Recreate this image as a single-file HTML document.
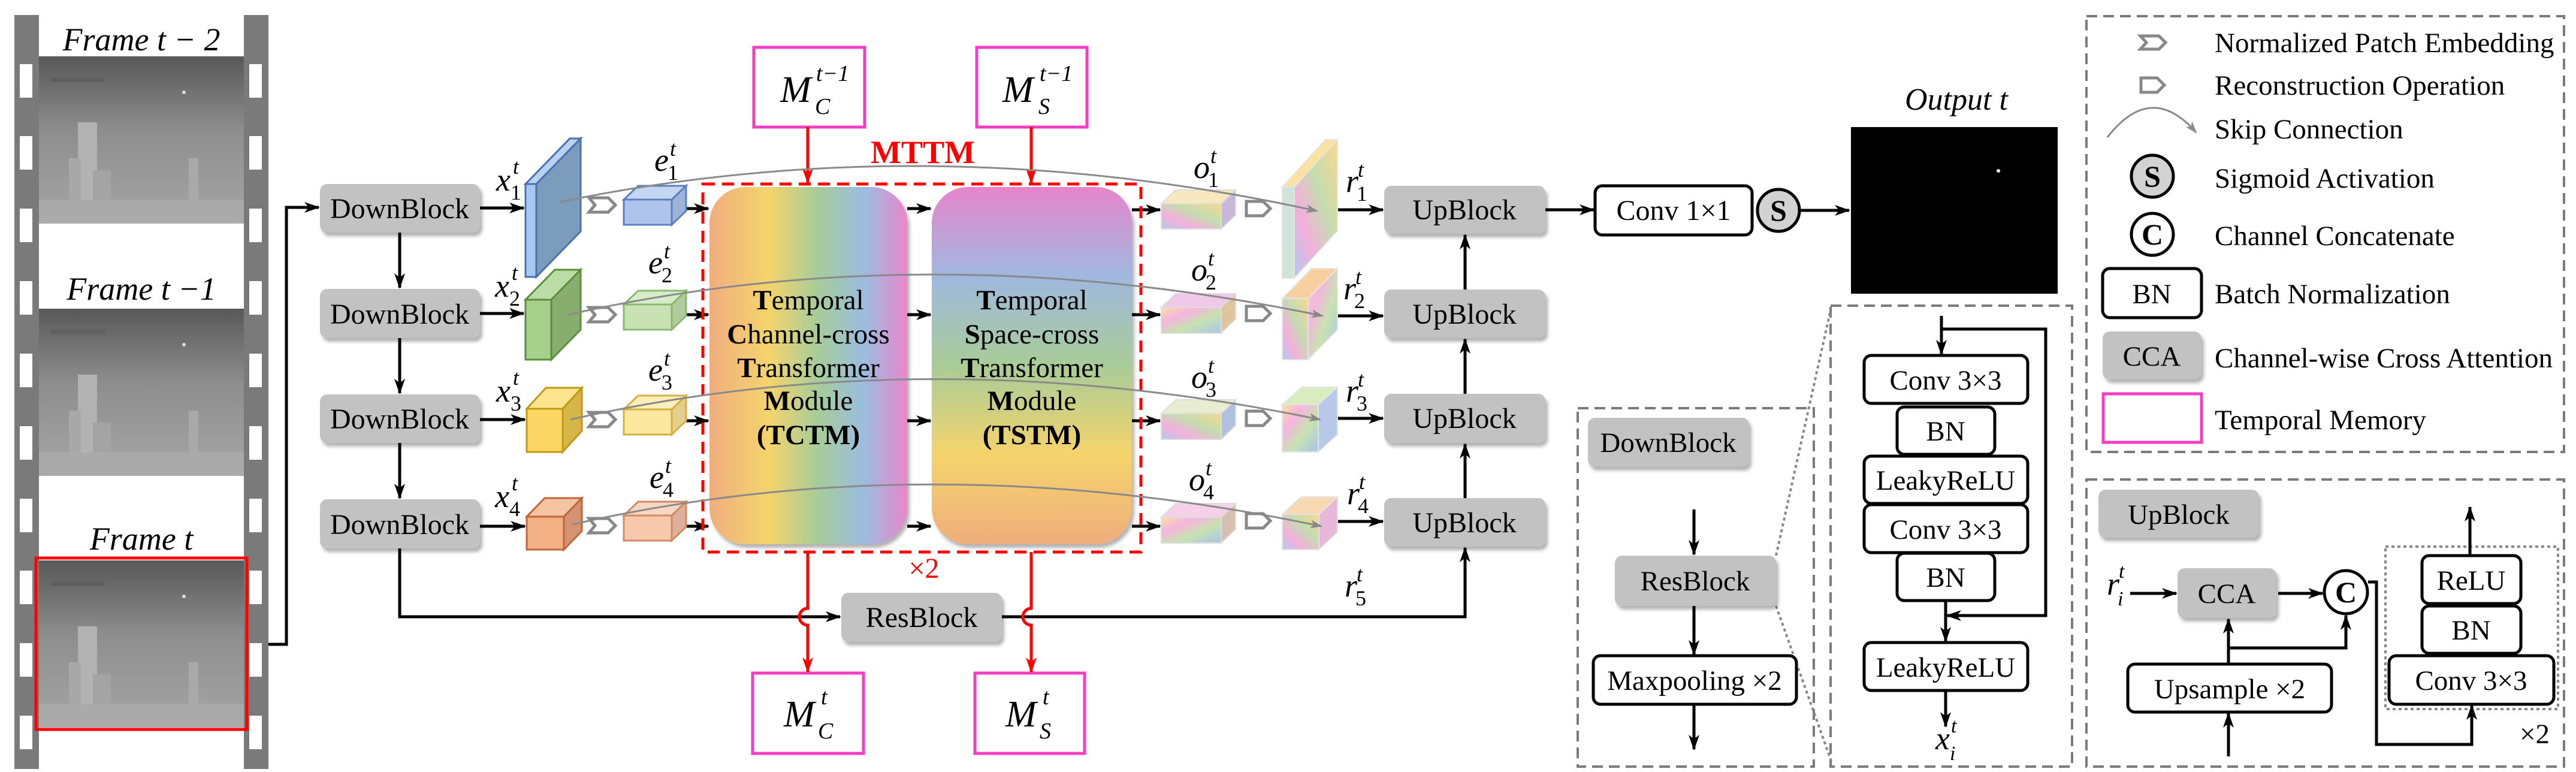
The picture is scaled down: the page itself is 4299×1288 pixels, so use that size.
<!DOCTYPE html>
<html><head><meta charset="utf-8"><style>
html,body{margin:0;padding:0;background:#fff;width:4299px;height:1288px;overflow:hidden}
svg{display:block;font-family:'Liberation Serif','Times New Roman',serif}
svg text, svg tspan{font-family:'Liberation Serif','Times New Roman',serif}
</style></head><body>
<svg width="4299" height="1288" viewBox="0 0 4299 1288" xmlns="http://www.w3.org/2000/svg" font-family="Liberation Serif, Times New Roman, serif">
<defs>
<marker id="a" markerWidth="26" markerHeight="18" refX="24" refY="9" orient="auto" markerUnits="userSpaceOnUse"><path d="M0,0 L26,9 L0,18 L7,9z" fill="#000"/></marker>
<marker id="ar" markerWidth="26" markerHeight="18" refX="24" refY="9" orient="auto" markerUnits="userSpaceOnUse"><path d="M0,0 L26,9 L0,18 L7,9z" fill="#f00"/></marker>
<marker id="ag" markerWidth="20" markerHeight="14" refX="18" refY="7" orient="auto" markerUnits="userSpaceOnUse"><path d="M0,0 L20,7 L0,14 L5,7z" fill="#888"/></marker>
<filter id="sh" x="-10%" y="-10%" width="130%" height="140%"><feDropShadow dx="4" dy="6" stdDeviation="3" flood-color="#000" flood-opacity="0.3"/></filter>
<linearGradient id="fr" x1="0" y1="0" x2="0" y2="1"><stop offset="0" stop-color="#585858"/><stop offset="0.45" stop-color="#8e8e8e"/><stop offset="1" stop-color="#a6a6a6"/></linearGradient>
<linearGradient id="tc" x1="0" y1="0" x2="1" y2="0"><stop offset="0" stop-color="#efae7e"/><stop offset="0.3" stop-color="#f5d46c"/><stop offset="0.55" stop-color="#a6cc9a"/><stop offset="0.78" stop-color="#9bbde0"/><stop offset="1" stop-color="#ea86cc"/></linearGradient>
<linearGradient id="ts" x1="0" y1="0" x2="0" y2="1"><stop offset="0" stop-color="#e685cc"/><stop offset="0.25" stop-color="#a0b8e0"/><stop offset="0.5" stop-color="#a9cc98"/><stop offset="0.75" stop-color="#f5d46c"/><stop offset="1" stop-color="#eeae7c"/></linearGradient>
<linearGradient id="rb" x1="0" y1="0" x2="1" y2="1"><stop offset="0" stop-color="#fbe0a0"/><stop offset="0.3" stop-color="#f6b4e0"/><stop offset="0.6" stop-color="#c8e2b0"/><stop offset="1" stop-color="#a8c4ec"/></linearGradient>
<linearGradient id="rb2" x1="1" y1="0" x2="0" y2="1"><stop offset="0" stop-color="#f8d890"/><stop offset="0.4" stop-color="#c4dcb0"/><stop offset="0.7" stop-color="#f4b0dc"/><stop offset="1" stop-color="#b4c8ee"/></linearGradient>
<g id="frame">
<rect x="0" y="0" width="342" height="279" fill="url(#fr)"/>
<rect x="20" y="35" width="90" height="8" fill="#555" opacity="0.5"/>
<rect x="65" y="110" width="32" height="169" fill="#b2b2b2"/>
<rect x="50" y="170" width="20" height="109" fill="#a8a8a8"/>
<rect x="90" y="190" width="30" height="89" fill="#a4a4a4"/>
<rect x="250" y="170" width="16" height="109" fill="#a9a9a9"/>
<rect x="0" y="240" width="342" height="39" fill="#aaa"/>
<circle cx="242" cy="60" r="3" fill="#ddd"/>
</g>
</defs>

<rect x="24" y="25" width="41" height="1258" fill="#7a7a7a"/>
<rect x="407" y="25" width="41" height="1258" fill="#7a7a7a"/>
<g fill="#fff">
<rect x="33" y="107" width="21" height="56"/><rect x="33" y="227" width="21" height="56"/><rect x="33" y="348" width="21" height="56"/><rect x="33" y="469" width="21" height="56"/><rect x="33" y="590" width="21" height="56"/><rect x="33" y="711" width="21" height="56"/><rect x="33" y="832" width="21" height="56"/><rect x="33" y="952" width="21" height="56"/><rect x="33" y="1073" width="21" height="56"/><rect x="33" y="1194" width="21" height="56"/>
<rect x="416" y="107" width="21" height="56"/><rect x="416" y="227" width="21" height="56"/><rect x="416" y="348" width="21" height="56"/><rect x="416" y="469" width="21" height="56"/><rect x="416" y="590" width="21" height="56"/><rect x="416" y="711" width="21" height="56"/><rect x="416" y="832" width="21" height="56"/><rect x="416" y="952" width="21" height="56"/><rect x="416" y="1073" width="21" height="56"/><rect x="416" y="1194" width="21" height="56"/>
</g>
<use href="#frame" x="65" y="94"/>
<use href="#frame" x="65" y="515"/>
<use href="#frame" x="65" y="935"/>
<rect x="60" y="931" width="352" height="286" fill="none" stroke="#f00" stroke-width="5"/>
<g font-size="54" font-style="italic" text-anchor="middle" font-family="Liberation Serif, serif">
<text x="236" y="84">Frame t − 2</text>
<text x="236" y="500">Frame t −1</text>
<text x="236" y="917">Frame t</text>
</g>

<path d="M448 1075 H478 V346 H532" fill="none" stroke="#000" stroke-width="5" marker-end="url(#a)"/>

<g fill="#c2c2c2" filter="url(#sh)">
<rect x="534" y="307" width="267" height="81" rx="12"/>
<rect x="534" y="482" width="267" height="82" rx="12"/>
<rect x="534" y="658" width="267" height="81" rx="12"/>
<rect x="534" y="833" width="267" height="82" rx="12"/>
</g>
<g font-size="48" text-anchor="middle" font-family="Liberation Serif, serif">
<text x="667" y="364">DownBlock</text>
<text x="667" y="540">DownBlock</text>
<text x="667" y="715">DownBlock</text>
<text x="667" y="891">DownBlock</text>
</g>
<g stroke="#000" stroke-width="5" fill="none" marker-end="url(#a)">
<path d="M667 388 V480"/><path d="M667 564 V656"/><path d="M667 739 V831"/>
<path d="M801 347 H874"/><path d="M801 523 H874"/><path d="M801 700 H876"/><path d="M801 878 H876"/>
<path d="M667 915 V1029 H1402"/>
<path d="M1672 1029 H2445 V914"/>
<path d="M2445 831 V741"/><path d="M2445 657 V566"/><path d="M2445 483 V392"/>
<path d="M1145 348 H1182"/><path d="M1145 525 H1182"/><path d="M1145 702 H1182"/><path d="M1145 878 H1182"/>
<path d="M1514 348 H1553"/><path d="M1514 525 H1553"/><path d="M1514 702 H1553"/><path d="M1514 878 H1553"/>
<path d="M1889 350 H1936"/><path d="M1889 525 H1936"/><path d="M1889 702 H1936"/><path d="M1889 878 H1936"/>
<path d="M2232 350 H2308"/><path d="M2232 527 H2308"/><path d="M2232 698 H2308"/><path d="M2232 870 H2308"/>
<path d="M2579 350 H2660"/><path d="M3005 351 H3086"/>
</g>

<g stroke-width="3">
<polygon points="877,307 895,307 969,231 951,231" fill="#b8d2f2" stroke="#4a70b0"/>
<polygon points="895,307 969,231 969,386 895,462" fill="#7b9cbb" stroke="#4a70b0"/>
<rect x="877" y="307" width="18" height="155" fill="#a8c8ee" stroke="#4a70b0"/>
<polygon points="877,500 920,500 969,450 926,450" fill="#bcdca6" stroke="#5a8f3a"/>
<polygon points="920,500 969,450 969,550 920,600" fill="#88ad6e" stroke="#5a8f3a"/>
<rect x="877" y="500" width="43" height="100" fill="#a8d08d" stroke="#5a8f3a"/>
<polygon points="879,682 939,682 971,647 911,647" fill="#fde48e" stroke="#c09a10"/>
<polygon points="939,682 971,647 971,719 939,754" fill="#d6b54a" stroke="#c09a10"/>
<rect x="879" y="682" width="60" height="72" fill="#fcd766" stroke="#c09a10"/>
<polygon points="879,862 941,862 971,831 909,831" fill="#f5c4a2" stroke="#c0653a"/>
<polygon points="941,862 971,831 971,886 941,917" fill="#d49474" stroke="#c0653a"/>
<rect x="879" y="862" width="62" height="55" fill="#f2b084" stroke="#c0653a"/>
</g>
<g stroke-width="3">
<polygon points="1041,333 1121,333 1145,310 1065,310" fill="#c4d6f2" stroke="#5a80c0"/>
<polygon points="1121,333 1145,310 1145,352 1121,375" fill="#9cb4d8" stroke="#5a80c0"/>
<rect x="1041" y="333" width="80" height="42" fill="#aec4ea" stroke="#5a80c0"/>
<polygon points="1041,508 1121,508 1145,485 1065,485" fill="#d6ebc8" stroke="#8ab870"/>
<polygon points="1121,508 1145,485 1145,527 1121,550" fill="#b0cc9c" stroke="#8ab870"/>
<rect x="1041" y="508" width="80" height="42" fill="#c8e2b4" stroke="#8ab870"/>
<polygon points="1041,683 1121,683 1145,660 1065,660" fill="#fef0b8" stroke="#d4b040"/>
<polygon points="1121,683 1145,660 1145,702 1121,725" fill="#e4d08c" stroke="#d4b040"/>
<rect x="1041" y="683" width="80" height="42" fill="#fde8a0" stroke="#d4b040"/>
<polygon points="1041,860 1121,860 1145,837 1065,837" fill="#f8d8c4" stroke="#d08a66"/>
<polygon points="1121,860 1145,837 1145,879 1121,902" fill="#deb09a" stroke="#d08a66"/>
<rect x="1041" y="860" width="80" height="42" fill="#f6c8ac" stroke="#d08a66"/>
</g>
<g fill="#fff" stroke="#888" stroke-width="5">
<polygon points="983,330 1015,330 1027,342 1015,354 983,354 993,342"/>
<polygon points="983,513 1015,513 1027,525 1015,537 983,537 993,525"/>
<polygon points="983,688 1015,688 1027,700 1015,712 983,712 993,700"/>
<polygon points="983,865 1015,865 1027,877 1015,889 983,889 993,877"/>
<polygon points="2080,336 2108,336 2120,348 2108,360 2080,360"/>
<polygon points="2080,511 2108,511 2120,523 2108,535 2080,535"/>
<polygon points="2080,686 2108,686 2120,698 2108,710 2080,710"/>
<polygon points="2080,857 2108,857 2120,869 2108,881 2080,881"/>
</g>

<rect x="1184" y="312" width="330" height="596" rx="60" fill="url(#tc)" filter="url(#sh)"/>
<rect x="1555" y="312" width="334" height="596" rx="60" fill="url(#ts)" filter="url(#sh)"/>
<rect x="1173" y="307" width="731" height="614" fill="none" stroke="#f00" stroke-width="5" stroke-dasharray="20 12"/>
<text x="1540" y="272" font-size="54" font-weight="bold" fill="#f00" text-anchor="middle" font-family="Liberation Serif, serif">MTTM</text>
<text x="1542" y="964" font-size="48" fill="#f00" text-anchor="middle" font-family="Liberation Serif, serif">×2</text>
<g font-size="47" text-anchor="middle" font-family="Liberation Serif, serif">
<text x="1349" y="516"><tspan font-weight="bold">T</tspan>emporal</text>
<text x="1349" y="573"><tspan font-weight="bold">C</tspan>hannel-cross</text>
<text x="1349" y="629"><tspan font-weight="bold">T</tspan>ransformer</text>
<text x="1349" y="684"><tspan font-weight="bold">M</tspan>odule</text>
<text x="1349" y="741" font-weight="bold">(TCTM)</text>
<text x="1722" y="516"><tspan font-weight="bold">T</tspan>emporal</text>
<text x="1722" y="573"><tspan font-weight="bold">S</tspan>pace-cross</text>
<text x="1722" y="629"><tspan font-weight="bold">T</tspan>ransformer</text>
<text x="1722" y="684"><tspan font-weight="bold">M</tspan>odule</text>
<text x="1722" y="741" font-weight="bold">(TSTM)</text>
</g>

<g fill="none" stroke="#f73cc4" stroke-width="5">
<rect x="1258" y="79" width="185" height="133"/><rect x="1630" y="79" width="184" height="133"/>
<rect x="1256" y="1123" width="185" height="134"/><rect x="1627" y="1123" width="183" height="134"/>
</g>
<g font-size="62" font-style="italic" font-family="Liberation Serif, serif">
<text x="1302" y="170">M</text><text x="1360" y="190" font-size="38">C</text><text x="1362" y="135" font-size="38">t−1</text>
<text x="1673" y="170">M</text><text x="1733" y="190" font-size="38">S</text><text x="1735" y="135" font-size="38">t−1</text>
<text x="1308" y="1212">M</text><text x="1365" y="1232" font-size="38">C</text><text x="1370" y="1175" font-size="38">t</text>
<text x="1678" y="1212">M</text><text x="1735" y="1232" font-size="38">S</text><text x="1740" y="1175" font-size="38">t</text>
</g>
<g stroke="#f00" stroke-width="5" fill="none">
<path d="M1348 212 V305" marker-end="url(#ar)"/><path d="M1721 212 V305" marker-end="url(#ar)"/>
<path d="M1348 921 V1015 A14 14 0 0 0 1348 1043 V1121" marker-end="url(#ar)"/>
<path d="M1721 921 V1015 A14 14 0 0 0 1721 1043 V1121" marker-end="url(#ar)"/>
</g>
<rect x="1404" y="989" width="268" height="82" rx="12" fill="#c2c2c2" filter="url(#sh)"/>
<text x="1538" y="1046" font-size="48" text-anchor="middle" font-family="Liberation Serif, serif">ResBlock</text>

<g stroke="#ddd" stroke-width="2">
<polygon points="1938,340 2038,340 2062,317 1962,317" fill="#f8e8c0"/>
<polygon points="2038,340 2062,317 2062,359 2038,382" fill="#c8b8d8"/>
<rect x="1938" y="340" width="100" height="42" fill="url(#rb2)"/>
<polygon points="1938,513 2038,513 2062,490 1962,490" fill="#f2c8e8"/>
<polygon points="2038,513 2062,490 2062,532 2038,556" fill="#e0c49c"/>
<rect x="1938" y="513" width="100" height="43" fill="url(#rb)"/>
<polygon points="1938,690 2038,690 2062,667 1962,667" fill="#e8ecd0"/>
<polygon points="2038,690 2062,667 2062,710 2038,733" fill="#b0c0e0"/>
<rect x="1938" y="690" width="100" height="43" fill="url(#rb2)"/>
<polygon points="1938,863 2038,863 2062,840 1962,840" fill="#f6d0e8"/>
<polygon points="2038,863 2062,840 2062,883 2038,906" fill="#d8c0b0"/>
<rect x="1938" y="863" width="100" height="43" fill="url(#rb)"/>
</g>
<g stroke="#e4e4e4" stroke-width="2">
<polygon points="2140,312 2160,312 2232,233 2212,233" fill="#fbe2a0"/>
<polygon points="2160,312 2232,233 2232,385 2160,464" fill="url(#rb2)"/>
<rect x="2140" y="312" width="20" height="152" fill="#cfe4d8"/>
<polygon points="2140,498 2183,498 2232,448 2189,448" fill="#f8d0a0"/>
<polygon points="2183,498 2232,448 2232,550 2183,600" fill="url(#rb)"/>
<rect x="2140" y="498" width="43" height="102" fill="url(#rb2)"/>
<polygon points="2140,675 2200,675 2232,646 2172,646" fill="#d8ecc0"/>
<polygon points="2200,675 2232,646 2232,725 2200,754" fill="#b8c8e8"/>
<rect x="2140" y="675" width="60" height="79" fill="url(#rb)"/>
<polygon points="2140,858 2201,858 2232,829 2171,829" fill="#f8d8b0"/>
<polygon points="2201,858 2232,829 2232,888 2201,917" fill="#e8b8d8"/>
<rect x="2140" y="858" width="61" height="59" fill="url(#rb2)"/>
</g>

<g fill="none" stroke="#8a8a8a" stroke-width="3" marker-end="url(#ag)">
<path d="M934 337 Q1550 210 2198 352"/>
<path d="M948 525 Q1550 390 2207 527"/>
<path d="M952 700 Q1550 565 2203 700"/>
<path d="M955 875 Q1550 740 2205 878"/>
</g>

<g font-size="54" font-style="italic" font-family="Liberation Serif, serif">
<text x="828" y="318">x</text><text x="826" y="495">x</text><text x="828" y="670">x</text><text x="826" y="846">x</text>
<text x="1092" y="285">e</text><text x="1082" y="456">e</text><text x="1082" y="635">e</text><text x="1084" y="814">e</text>
<text x="1992" y="297">o</text><text x="1988" y="468">o</text><text x="1988" y="647">o</text><text x="1984" y="818">o</text>
<text x="2246" y="320">r</text><text x="2242" y="499">r</text><text x="2246" y="670">r</text><text x="2248" y="841">r</text><text x="2244" y="995">r</text>
</g>
<g font-size="36" font-family="Liberation Serif, serif">
<text x="852" y="333">1</text><text x="850" y="510">2</text><text x="852" y="685">3</text><text x="850" y="861">4</text>
<text x="1114" y="300">1</text><text x="1104" y="471">2</text><text x="1104" y="650">3</text><text x="1106" y="829">4</text>
<text x="2016" y="312">1</text><text x="2012" y="483">2</text><text x="2012" y="662">3</text><text x="2008" y="833">4</text>
<text x="2264" y="335">1</text><text x="2260" y="514">2</text><text x="2264" y="685">3</text><text x="2266" y="856">4</text><text x="2262" y="1010">5</text>
</g>
<g font-size="36" font-style="italic" font-family="Liberation Serif, serif">
<text x="856" y="290">t</text><text x="854" y="467">t</text><text x="856" y="642">t</text><text x="854" y="818">t</text>
<text x="1118" y="260">t</text><text x="1108" y="431">t</text><text x="1108" y="610">t</text><text x="1110" y="789">t</text>
<text x="2020" y="272">t</text><text x="2016" y="443">t</text><text x="2016" y="622">t</text><text x="2012" y="793">t</text>
<text x="2266" y="295">t</text><text x="2262" y="474">t</text><text x="2266" y="645">t</text><text x="2268" y="816">t</text><text x="2264" y="970">t</text>
</g>

<g fill="#c2c2c2" filter="url(#sh)">
<rect x="2310" y="310" width="269" height="80" rx="12"/>
<rect x="2310" y="483" width="269" height="81" rx="12"/>
<rect x="2310" y="657" width="269" height="82" rx="12"/>
<rect x="2310" y="831" width="269" height="81" rx="12"/>
</g>
<g font-size="48" text-anchor="middle" font-family="Liberation Serif, serif">
<text x="2444" y="366">UpBlock</text><text x="2444" y="540">UpBlock</text><text x="2444" y="714">UpBlock</text><text x="2444" y="888">UpBlock</text>
</g>
<rect x="2662" y="310" width="262" height="82" rx="12" fill="#fff" stroke="#000" stroke-width="5"/>
<text x="2793" y="367" font-size="48" text-anchor="middle" font-family="Liberation Serif, serif">Conv 1×1</text>
<circle cx="2968" cy="351" r="35" fill="#d2d2d2" stroke="#000" stroke-width="5"/>
<text x="2968" y="368" font-size="50" font-weight="bold" text-anchor="middle" font-family="Liberation Serif, serif">S</text>
<rect x="3089" y="212" width="345" height="278" fill="#000"/>
<circle cx="3335" cy="285" r="3" fill="#fff"/>
<text x="3265" y="183" font-size="52" font-style="italic" text-anchor="middle" font-family="Liberation Serif, serif">Output t</text>

<g fill="none" stroke="#7a7a7a" stroke-width="4" stroke-dasharray="18 10">
<rect x="2633" y="681" width="394" height="598"/>
<rect x="3055" y="510" width="403" height="769"/>
<rect x="3482" y="27" width="797" height="727"/>
<rect x="3482" y="800" width="797" height="479"/>
</g>
<g fill="none" stroke="#888" stroke-width="4" stroke-dasharray="5 5">
<path d="M2964 927 L3055 517"/><path d="M2964 1011 L3058 1275"/>
<rect x="3981" y="912" width="288" height="271"/>
</g>

<g fill="#c2c2c2" filter="url(#sh)">
<rect x="2650" y="697" width="269" height="82" rx="12"/>
<rect x="2695" y="927" width="269" height="84" rx="12"/>
<rect x="3502" y="817" width="268" height="80" rx="12"/>
<rect x="3634" y="948" width="165" height="83" rx="12"/>
<rect x="3509" y="553" width="165" height="80" rx="12"/>
</g>
<g fill="#fff" stroke="#000" stroke-width="5">
<rect x="2659" y="1094" width="339" height="81" rx="12"/>
<rect x="3111" y="593" width="273" height="80" rx="12"/>
<rect x="3166" y="679" width="163" height="79" rx="12"/>
<rect x="3111" y="761" width="273" height="79" rx="12"/>
<rect x="3111" y="842" width="273" height="80" rx="12"/>
<rect x="3166" y="923" width="163" height="79" rx="12"/>
<rect x="3111" y="1072" width="273" height="80" rx="12"/>
<rect x="3509" y="448" width="165" height="82" rx="12"/>
<rect x="3551" y="1108" width="340" height="80" rx="12"/>
<rect x="4042" y="927" width="165" height="80" rx="12"/>
<rect x="4042" y="1011" width="165" height="79" rx="12"/>
<rect x="3987" y="1094" width="275" height="81" rx="12"/>
</g>
<g font-size="47" text-anchor="middle" font-family="Liberation Serif, serif">
<text x="2784" y="754">DownBlock</text>
<text x="2829" y="985">ResBlock</text>
<text x="2828" y="1151">Maxpooling ×2</text>
<text x="3247" y="650">Conv 3×3</text>
<text x="3247" y="735">BN</text>
<text x="3247" y="817">LeakyReLU</text>
<text x="3247" y="899">Conv 3×3</text>
<text x="3247" y="979">BN</text>
<text x="3247" y="1129">LeakyReLU</text>
<text x="3636" y="874">UpBlock</text>
<text x="3716" y="1006">CCA</text>
<text x="3721" y="1165">Upsample ×2</text>
<text x="4124" y="984">ReLU</text>
<text x="4124" y="1067">BN</text>
<text x="4124" y="1151">Conv 3×3</text>
<text x="3591" y="506">BN</text>
<text x="3591" y="610">CCA</text>
<text x="4230" y="1240">×2</text>
</g>
<g stroke="#000" stroke-width="5" fill="none" marker-end="url(#a)">
<path d="M2827 850 V925"/><path d="M2827 1011 V1092"/><path d="M2827 1175 V1250"/>
<path d="M3240 527 V591"/>
<path d="M3240 549 H3414 V1027 H3249"/>
<path d="M3247 1002 V1070"/>
<path d="M3247 1152 V1212"/>
<path d="M3555 990 H3632"/>
<path d="M3802 990 H3876"/>
<path d="M3719 1262 V1190"/>
<path d="M3719 1108 V1033"/>
<path d="M3719 1081 H3915 V1027"/>
<path d="M3952 971 H3966 V1242 H4125 V1177"/>
<path d="M4122 927 V846"/>
</g>
<circle cx="3915" cy="988" r="36" fill="#fff" stroke="#000" stroke-width="5"/>
<text x="3915" y="1005" font-size="50" font-weight="bold" text-anchor="middle" font-family="Liberation Serif, serif">C</text>
<g font-size="54" font-style="italic" font-family="Liberation Serif, serif">
<text x="3230" y="1250">x</text><text x="3516" y="992">r</text>
</g>
<g font-size="34" font-style="italic" font-family="Liberation Serif, serif">
<text x="3254" y="1268">i</text><text x="3256" y="1222">t</text>
<text x="3534" y="1010">i</text><text x="3536" y="964">t</text>
</g>

<g fill="#fff" stroke="#888" stroke-width="5">
<polygon points="3572,60 3603,60 3614,71 3603,82 3572,82 3582,71"/>
<polygon points="3573,130 3600,130 3612,142 3600,154 3573,154"/>
</g>
<path d="M3517 229 Q3590 135 3665 221" fill="none" stroke="#888" stroke-width="3" marker-end="url(#ag)"/>
<circle cx="3592" cy="294" r="35" fill="#d2d2d2" stroke="#000" stroke-width="5"/>
<text x="3592" y="311" font-size="50" font-weight="bold" text-anchor="middle" font-family="Liberation Serif, serif">S</text>
<circle cx="3592" cy="391" r="35" fill="#fff" stroke="#000" stroke-width="5"/>
<text x="3592" y="408" font-size="50" font-weight="bold" text-anchor="middle" font-family="Liberation Serif, serif">C</text>
<rect x="3510" y="657" width="164" height="81" fill="none" stroke="#f73cc4" stroke-width="5"/>
<g font-size="47" font-family="Liberation Serif, serif">
<text x="3696" y="87">Normalized Patch Embedding</text>
<text x="3696" y="158">Reconstruction Operation</text>
<text x="3696" y="231">Skip Connection</text>
<text x="3696" y="313">Sigmoid Activation</text>
<text x="3696" y="409">Channel Concatenate</text>
<text x="3696" y="506">Batch Normalization</text>
<text x="3696" y="613">Channel-wise Cross Attention</text>
<text x="3696" y="716">Temporal Memory</text>
</g>
</svg>
</body></html>
